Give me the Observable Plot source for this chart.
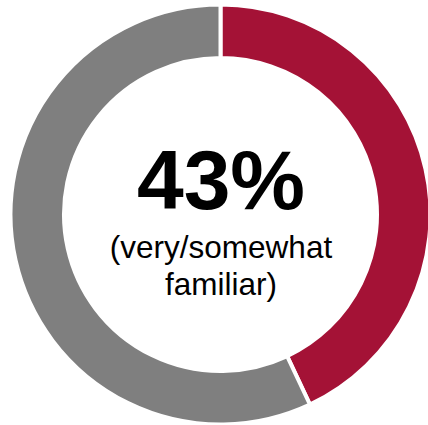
<!DOCTYPE html>
<html>
<head>
<meta charset="utf-8">
<script src="https://cdn.jsdelivr.net/npm/d3@7"></script>
<script src="https://cdn.jsdelivr.net/npm/@observablehq/plot@0.6"></script>
<style>
  html, body { margin: 0; padding: 0; background: #fff; }
  #chart svg { display: block; }
</style>
</head>
<body>
<div id="chart"></div>
<script>
// Data
const categories = ["Very/somewhat familiar", "Not familiar"];
const values = [43, 57];
const colors = ["#A41236", "#7F7F7F"];
const centerValue = "43%";
const centerLabel = ["(very/somewhat", "familiar)"];

const slices = categories.map((c, i) => ({category: c, value: values[i]}));

const W = 428, H = 425;
const outerR = 210, innerR = 156.5;

function donut(index, scales, channels, dims) {
  const cx = (dims.marginLeft + dims.width - dims.marginRight) / 2;
  const cy = (dims.marginTop + dims.height - dims.marginBottom) / 2;
  const pie = d3.pie().sort(null).value(d => d.value);
  const arc = d3.arc().innerRadius(innerR).outerRadius(outerR);
  const g = d3.create("svg:g").attr("transform", `translate(${cx},${cy})`);
  g.selectAll("path")
    .data(pie(slices))
    .join("path")
    .attr("d", arc)
    .attr("fill", d => scales.color(d.data.category))
    .attr("stroke", "#fff")
    .attr("stroke-width", 4)
    .attr("stroke-linejoin", "miter");
  return g.node();
}

const font = "'Liberation Sans', Arial, Helvetica, sans-serif";

const chart = Plot.plot({
  width: W,
  height: H,
  marginLeft: 13,
  marginRight: 0,
  marginTop: 4,
  marginBottom: 0,
  style: {fontFamily: font, background: "#fff"},
  color: {domain: categories, range: colors},
  marks: [
    donut,
    Plot.text([centerValue], {
      text: d => d, frameAnchor: "middle", dy: -33,
      fontSize: 84, fontWeight: "bold", fill: "#000"
    }),
    Plot.text([centerLabel[0]], {
      text: d => d, frameAnchor: "middle", dy: 33,
      fontSize: 31.5, fill: "#000"
    }),
    Plot.text([centerLabel[1]], {
      text: d => d, frameAnchor: "middle", dy: 69.5,
      fontSize: 31.5, fill: "#000"
    })
  ]
});

document.getElementById("chart").appendChild(chart);
</script>
</body>
</html>
